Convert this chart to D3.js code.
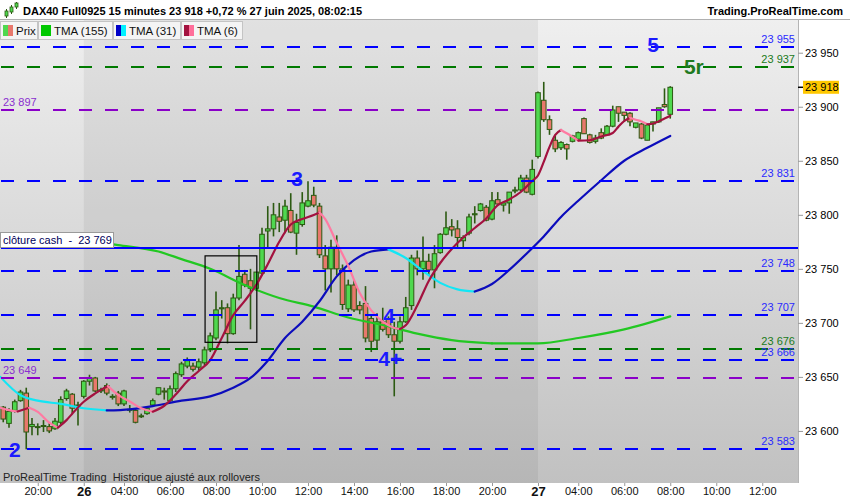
<!DOCTYPE html>
<html>
<head>
<meta charset="utf-8">
<style>
  body { margin: 0; background: #fff; }
  svg text { font-family: "Liberation Sans", Arial, sans-serif; white-space: pre; }
</style>
</head>
<body>
<svg id="chart" width="850" height="500"></svg>
<script src="https://d3js.org/d3.v7.min.js"></script>
<script>

// 15 minute bars, first one is 25 juin 18:30
var opens  = [23622,23607,23619,23628,23635,23604,23604,23605,23604,23602,23608,23630,23634,23623,
  23632,23646,23649,23637,23642,23632,23635,23625,23620,23619,23614,23616,23624,23634,23637,23628,
  23639,23652,23660,23660,23659,23663,23675,23686,23713,23714,23690,23723,23745,23739,23732,23746,
  23785,23787,23798,23795,23804,23783,23791,23808,23818,23808,23762,23750,23770,23750,23713,23735,
  23716,23718,23704,23684,23701,23704,23689,23683,23701,23716,23760,23750,23757,23749,23765,23782,
  23789,23787,23776,23783,23800,23804,23807,23796,23814,23809,23811,23822,23823,23834,23819,
  23854,23906,23888,23869,23862,23865,23868,23870,23889,23874,23868,23876,23874,23882,23900,23895,
  23894,23881,23884,23869,23884,23886,23902,23893];
var highs  = [23623,23621,23629,23638,23640,23612,23607,23610,23607,23612,23632,23639,23635,23627,
  23647,23652,23650,23640,23644,23634,23637,23638,23624,23621,23616,23623,23630,23640,23640,23642,
  23655,23664,23668,23663,23667,23678,23691,23729,23721,23718,23727,23772,23749,23750,23747,23788,
  23808,23811,23811,23814,23820,23801,23821,23831,23826,23811,23772,23777,23781,23754,23740,23740,
  23720,23734,23707,23709,23714,23706,23701,23706,23724,23763,23767,23780,23764,23772,23783,23803,
  23796,23795,23781,23801,23808,23811,23809,23821,23821,23812,23821,23826,23837,23837,23851,
  23914,23923,23892,23874,23868,23866,23874,23877,23890,23875,23874,23880,23883,23901,23900,23895,
  23895,23885,23885,23884,23886,23899,23917,23919];
var lows   = [23608,23603,23617,23627,23583,23596,23596,23599,23598,23601,23606,23628,23616,23605,
  23630,23642,23636,23635,23633,23629,23623,23623,23617,23607,23612,23615,23623,23633,23629,23627,
  23636,23650,23658,23655,23656,23661,23673,23684,23704,23681,23689,23721,23733,23694,23730,23744,
  23770,23780,23784,23783,23783,23763,23789,23807,23807,23760,23730,23728,23744,23712,23710,23710,
  23708,23682,23673,23675,23692,23686,23632,23681,23700,23712,23744,23740,23744,23732,23764,23781,
  23780,23770,23770,23781,23792,23803,23794,23795,23809,23803,23801,23820,23822,23820,23818,
  23852,23886,23874,23858,23860,23851,23867,23869,23875,23866,23866,23870,23874,23881,23886,23886,
  23882,23880,23870,23869,23877,23885,23899,23889];
var closes = [23611,23618,23627,23636,23599,23606,23604,23605,23600,23609,23629,23637,23621,23624,
  23646,23649,23637,23638,23635,23632,23625,23637,23620,23608,23614,23621,23628,23640,23636,23639,
  23653,23662,23665,23657,23664,23675,23688,23712,23714,23690,23723,23743,23735,23732,23747,23782,
  23787,23800,23794,23808,23784,23793,23811,23813,23809,23763,23750,23770,23750,23717,23735,23712,
  23712,23686,23683,23701,23694,23689,23683,23701,23714,23760,23750,23757,23749,23764,23782,23788,
  23786,23779,23779,23798,23801,23810,23795,23813,23810,23811,23821,23823,23834,23821,23842,
  23913,23888,23879,23861,23867,23861,23873,23876,23875,23867,23871,23871,23882,23897,23894,23892,
  23886,23885,23871,23883,23886,23899,23900,23918];

// triangular moving averages (bar index, value)
var ma155Idx = [-0.5,6,13,20,27,31,36,42,48,54,60,66,72,78,85,93,100,108,116];
var ma155    = [23781,23780,23777,23772,23766,23759,23750,23735,23723,23715,23705,23698,23690,23684,23681,23681,23686,23694,23706];
var ma31Idx  = [-0.5,3,6,10,14,18,22,26,31,36,40,43,46,49,52,55,58,61,64,67,70,73,76,79,82,85,88,91,94,97,100,104,108,112,116];
var ma31     = [23650,23633,23628,23625,23621,23619,23620,23623,23628,23632,23640,23649,23665,23686,23701,23720,23743,23758,23766,23768,
  23760,23748,23737,23731,23729,23736,23749,23764,23780,23798,23813,23832,23850,23862,23873];
var ma6Idx   = [-0.5,1,2.5,4.5,6,8,9.5,11,12,14,16,18.2,20,22,24,26,28,30,32,34,36,38,40,42,44,46,48,50,52,54,55,56,58,60,62,64,66,68,69,70,
  72,74,76,78,80,82,84,86,88,90,92,93,94,95,96,97,98,100,102,104,106,107,108,109,110,111,112,113,114,115,116];
var ma6      = [23621.5,23619.3,23618,23621.4,23617.6,23607.7,23603,23610,23616,23627,23634.7,23641.5,23633.3,23627.3,23620.9,23617.8,
  23623.3,23633.7,23646,23655.5,23665.6,23686,23707.1,23720.3,23735.1,23754.3,23775,23791,23796.1,23799.8,23802.1,23796.1,23773.9,
  23752.6,23727.7,23711.5,23701.1,23695.3,23694.3,23697.8,23716.1,23738.8,23755.4,23768.4,23779,23787.8,23796.6,23808.9,23814.2,
  23821.1,23831.3,23836.4,23848.9,23862.8,23873.9,23878.5,23875.4,23868.7,23869,23872.5,23875.7,23881.6,23886.8,23889.9,23888,
  23886.4,23883.8,23884.5,23886.5,23889.1,23891.7];

// horizontal levels
var levelValues = [23955,23937,23897,23831,23769,23748,23707,23676,23666,23649,23583];
var levelKinds  = ["target","alt","pivot","target","cash","target","target","alt","target","pivot","target"];

// wave counts
var waveText = ["2","3","4","4+","5","5r"];
var waveIdx  = [2,51.1,67.1,67.3,113,120.1];
var waveVal  = [23583,23834,23707,23667,23958,23937];
var waveKind = ["main","main","main","main","main","alt"];

// rectangle drawn on the chart
var boxIdx = [35.1, 44.1];
var boxVal = [23762, 23682];

var timeTickIdx    = [6,14,21,29,37,45,53,61,69,77,85,93,100,108,116,124,132];
var timeTickLabels = ["20:00","26","04:00","06:00","08:00","10:00","12:00","14:00","16:00","18:00","20:00","27","04:00","06:00","08:00","10:00","12:00"];
var dayStartIdx = [14, 93];
var priceTicks = [23600,23650,23700,23750,23800,23850,23900,23950];

var header = "DAX40 Full0925 15 minutes 23 918 +0,72 % 27 juin 2025, 08:02:15";
var legendLabels = ["Prix", "TMA (155)", "TMA (31)", "TMA (6)"];

// ---------------------------------------------------------------

var svg = d3.select('#chart');
var plot = {left: 0, right: 798, top: 19, bottom: 483};

var x = d3.scaleLinear().domain([0, 116]).range([3.25, 670.25]);
var y = d3.scaleLinear().domain([23583, 23955]).range([449.3, 47.3]);
var fmt = function(v) { return d3.format(',')(Math.round(v)).replace(',', ' ') };

var defs = svg.append('defs');
var grad = defs.append('linearGradient').attr('id', 'bg').attr('x1', 0).attr('y1', 0).attr('x2', 0).attr('y2', 1);
grad.append('stop').attr('offset', '0%').attr('stop-color', '#efefef');
grad.append('stop').attr('offset', '100%').attr('stop-color', '#c1c1c1');
defs.append('clipPath').attr('id', 'clip').append('rect')
  .attr('x', plot.left).attr('y', plot.top).attr('width', plot.right - plot.left).attr('height', plot.bottom - plot.top);

svg.append('rect').attr('width', 850).attr('height', 500).attr('fill', '#fff');
svg.append('rect')
  .attr('x', plot.left).attr('y', plot.top)
  .attr('width', plot.right - plot.left).attr('height', plot.bottom - plot.top)
  .attr('fill', 'url(#bg)');
// the 26th session is shaded a bit darker
svg.append('rect')
  .attr('x', x(dayStartIdx[0])).attr('y', plot.top)
  .attr('width', x(dayStartIdx[1]) - x(dayStartIdx[0])).attr('height', plot.bottom - plot.top)
  .attr('fill', '#000').attr('opacity', 0.055);
svg.append('line').attr('x1', 0).attr('x2', 850).attr('y1', plot.top + 0.5).attr('y2', plot.top + 0.5)
  .attr('stroke', '#b0b0b0');

var g = svg.append('g').attr('clip-path', 'url(#clip)');

// candles
var bars = d3.range(opens.length);
var wickCol = '#2c5a12';
g.selectAll('line.wick').data(bars).enter().append('line')
  .attr('class', 'wick')
  .attr('x1', function(d) { return x(d) }).attr('x2', function(d) { return x(d) })
  .attr('y1', function(d) { return y(highs[d]) }).attr('y2', function(d) { return y(lows[d]) })
  .attr('stroke', wickCol).attr('stroke-width', 1.6);
g.selectAll('rect.body').data(bars).enter().append('rect')
  .attr('class', 'body')
  .attr('x', function(d) { return x(d) - 2.3 })
  .attr('width', 4.6)
  .attr('y', function(d) { return y(Math.max(opens[d], closes[d])) })
  .attr('height', function(d) { return Math.max(1, Math.abs(y(opens[d]) - y(closes[d]))) })
  .attr('fill', function(d) { return closes[d] >= opens[d] ? '#4fd84f' : '#e8786c' })
  .attr('stroke', wickCol).attr('stroke-width', 1);

// moving averages, coloured by slope
function drawTma(idx, vals, upCol, downCol) {
  var pts = idx.map(function(d, k) { return [x(d), y(vals[k]), vals[k]] });
  var runs = [], cur = [pts[0]], dir = null;
  for (var k = 1; k < pts.length; k++) {
    var rising = pts[k][2] >= pts[k - 1][2];
    if (dir === null) dir = rising;
    if (rising !== dir) {
      runs.push({up: dir, pts: cur});
      cur = [pts[k - 1]];
      dir = rising;
    }
    cur.push(pts[k]);
  }
  runs.push({up: dir, pts: cur});
  var line = d3.line().curve(d3.curveMonotoneX);
  runs.forEach(function(r) {
    g.append('path')
      .attr('d', line(r.pts.map(function(p) { return [p[0], p[1]] })))
      .attr('fill', 'none')
      .attr('stroke', upCol === null ? downCol : (r.up ? upCol : downCol))
      .attr('stroke-width', 2.2)
      .attr('stroke-linecap', 'round');
  });
}
drawTma(ma155Idx, ma155, null, '#22c822');
drawTma(ma31Idx, ma31, '#0c0cbc', '#12e6f5');
drawTma(ma6Idx, ma6, '#a3123f', '#ff7aa2');

// horizontal levels
var levelCol = {target: '#0000ff', alt: '#007a00', pivot: '#8a00c8', cash: '#0000ff'};
var levels = levelValues.map(function(v, k) { return {v: v, kind: levelKinds[k]} });
g.selectAll('line.level').data(levels).enter().append('line')
  .attr('class', 'level')
  .attr('x1', plot.left + 1).attr('x2', plot.right)
  .attr('y1', function(d) { return Math.round(y(d.v)) }).attr('y2', function(d) { return Math.round(y(d.v)) })
  .attr('stroke', function(d) { return levelCol[d.kind] })
  .attr('stroke-width', 2)
  .attr('stroke-dasharray', function(d) { return d.kind === 'cash' ? null : '13,13' });

g.selectAll('text.lvlR').data(levels.filter(function(d) { return d.kind === 'target' || d.kind === 'alt' }))
  .enter().append('text')
  .attr('class', 'lvlR')
  .attr('x', 795).attr('y', function(d) { return Math.round(y(d.v)) - 4 })
  .attr('text-anchor', 'end')
  .attr('font-size', 11)
  .attr('fill', function(d) { return d.kind === 'alt' ? '#1a7a1a' : '#2a2aff' })
  .text(function(d) { return fmt(d.v) });
g.selectAll('text.lvlL').data(levels.filter(function(d) { return d.kind === 'pivot' }))
  .enter().append('text')
  .attr('class', 'lvlL')
  .attr('x', 3).attr('y', function(d) { return Math.round(y(d.v)) - 4 })
  .attr('font-size', 11)
  .attr('fill', '#8a2ed0')
  .text(function(d) { return fmt(d.v) });

var cash = levels.filter(function(d) { return d.kind === 'cash' })[0];
var cy = Math.round(y(cash.v));
g.append('rect').attr('x', 0.5).attr('y', cy - 15.5).attr('width', 113).attr('height', 15)
  .attr('fill', '#fff').attr('stroke', '#9a9a9a');
g.append('text').attr('x', 3).attr('y', cy - 4).attr('font-size', 11).attr('fill', '#00005a')
  .text('clôture cash  -  ' + fmt(cash.v));

// drawn rectangle
g.append('rect')
  .attr('x', x(boxIdx[0])).attr('y', y(boxVal[0]))
  .attr('width', x(boxIdx[1]) - x(boxIdx[0])).attr('height', y(boxVal[1]) - y(boxVal[0]))
  .attr('fill', 'none').attr('stroke', '#000').attr('stroke-width', 1.2);

// wave labels
g.selectAll('text.wave').data(waveText).enter().append('text')
  .attr('class', 'wave')
  .attr('x', function(d, k) { return x(waveIdx[k]) })
  .attr('y', function(d, k) { return y(waveVal[k]) })
  .attr('dy', '0.36em')
  .attr('text-anchor', 'middle')
  .attr('font-size', 21).attr('font-weight', 'bold')
  .attr('fill', function(d, k) { return waveKind[k] === 'alt' ? '#1f7a1f' : '#1a1aff' })
  .text(function(d) { return d });

g.append('text').attr('x', 3).attr('y', 481).attr('font-size', 11).attr('fill', '#222')
  .text('ProRealTime Trading  Historique ajusté aux rollovers');

// right price axis
svg.append('line').attr('x1', plot.right + 0.5).attr('x2', plot.right + 0.5)
  .attr('y1', plot.top).attr('y2', plot.bottom).attr('stroke', '#b4b4b4');
var yAxis = svg.append('g').attr('transform', 'translate(' + plot.right + ',0)')
  .call(d3.axisRight(y).tickValues(priceTicks).tickSize(5).tickPadding(2).tickFormat(fmt));
yAxis.select('.domain').remove();
yAxis.selectAll('line').attr('stroke', '#999');
yAxis.selectAll('text').attr('font-size', 11).attr('fill', '#000').attr('font-family', '"Liberation Sans", Arial, sans-serif');

// last price tag
var last = closes[closes.length - 1];
svg.append('line').attr('x1', plot.right).attr('x2', plot.right + 5)
  .attr('y1', y(last)).attr('y2', y(last)).attr('stroke', '#000').attr('stroke-width', 1.5);
svg.append('rect').attr('x', 803).attr('y', y(last) - 6.5).attr('width', 36).attr('height', 13)
  .attr('fill', '#ffc800');
svg.append('text').attr('x', 805).attr('y', y(last)).attr('dy', '0.36em')
  .attr('font-size', 11).attr('fill', '#000').text(fmt(last));

// time axis
var xAxis = svg.append('g').attr('transform', 'translate(0,' + plot.bottom + ')')
  .call(d3.axisBottom(x).tickValues(timeTickIdx).tickSize(3).tickPadding(1)
    .tickFormat(function(d, k) { return timeTickLabels[k] }));
xAxis.select('.domain').remove();
xAxis.selectAll('line').attr('stroke', '#999');
xAxis.selectAll('text')
  .attr('font-family', '"Liberation Sans", Arial, sans-serif')
  .attr('fill', '#111')
  .attr('font-size', function(d, k) { return timeTickLabels[k].indexOf(':') < 0 ? 13 : 11 })
  .attr('font-weight', function(d, k) { return timeTickLabels[k].indexOf(':') < 0 ? 'bold' : 'normal' });

// header
var icon = svg.append('g');
icon.append('line').attr('x1', 6.5).attr('x2', 6.5).attr('y1', 9).attr('y2', 18).attr('stroke', wickCol);
icon.append('rect').attr('x', 5).attr('y', 11).attr('width', 3).attr('height', 5).attr('fill', '#4fd84f').attr('stroke', wickCol).attr('stroke-width', 0.8);
icon.append('line').attr('x1', 11.5).attr('x2', 11.5).attr('y1', 5).attr('y2', 14).attr('stroke', wickCol);
icon.append('rect').attr('x', 10).attr('y', 7).attr('width', 3).attr('height', 5).attr('fill', '#4fd84f').attr('stroke', wickCol).attr('stroke-width', 0.8);
icon.append('line').attr('x1', 16.5).attr('x2', 16.5).attr('y1', 2).attr('y2', 9).attr('stroke', wickCol);
icon.append('rect').attr('x', 15).attr('y', 3).attr('width', 3).attr('height', 4).attr('fill', '#4fd84f').attr('stroke', wickCol).attr('stroke-width', 0.8);
svg.append('text').attr('x', 23).attr('y', 15).attr('font-size', 11).attr('font-weight', 'bold').attr('fill', '#000')
  .text(header);
svg.append('text').attr('x', 843).attr('y', 15).attr('text-anchor', 'end').attr('font-size', 11)
  .attr('font-weight', 'bold').attr('fill', '#000').text('Trading.ProRealTime.com');

// legend
var legendX = [0, 38, 113, 181];
var legendW = [37, 74, 67, 61];
var swatches = [['#4fd84f', '#e8786c'], ['#00c800', '#00c800'], ['#0000c8', '#00f0ff'], ['#a3123f', '#ff6f9a']];
var lg = svg.selectAll('g.leg').data(legendLabels).enter().append('g')
  .attr('class', 'leg')
  .attr('transform', function(d, k) { return 'translate(' + legendX[k] + ',21)' });
lg.append('rect').attr('x', 0.5).attr('y', 0.5).attr('width', function(d, k) { return legendW[k] }).attr('height', 18)
  .attr('fill', '#f4f4f4').attr('stroke', '#c4c4c4');
lg.append('rect').attr('x', 3).attr('y', 4).attr('width', 5).attr('height', 11)
  .attr('fill', function(d, k) { return swatches[k][0] });
lg.append('rect').attr('x', 8).attr('y', 4).attr('width', 5).attr('height', 11)
  .attr('fill', function(d, k) { return swatches[k][1] });
lg.append('text').attr('x', 16).attr('y', 14).attr('font-size', 11.5).attr('fill', '#111')
  .text(function(d) { return d });

</script>
</body>
</html>
